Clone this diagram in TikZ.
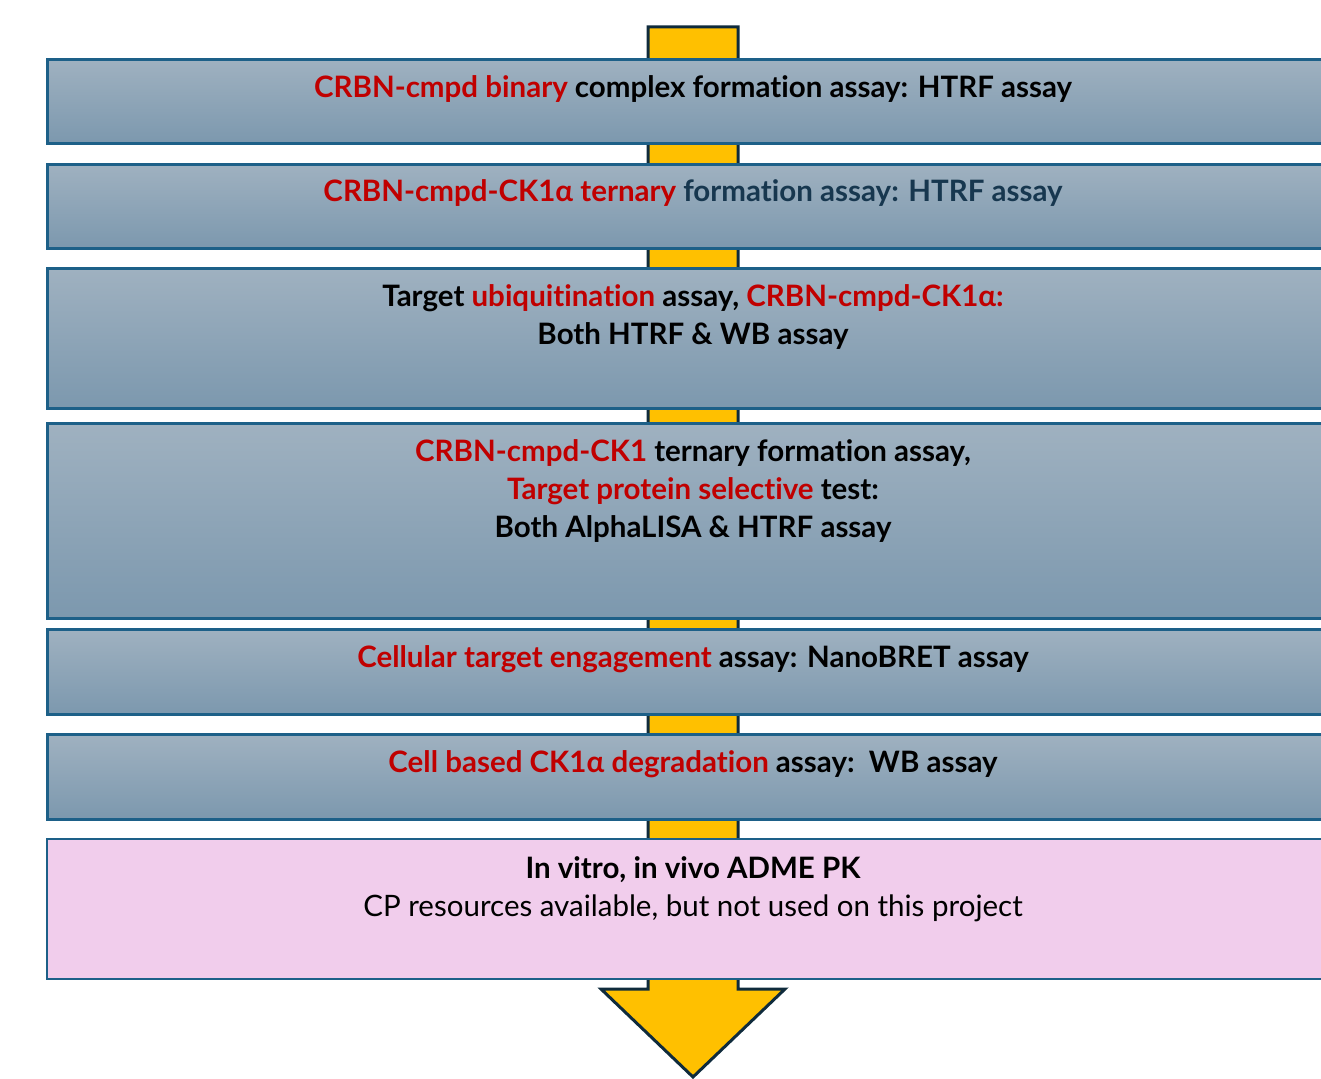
\documentclass[tikz,border=0pt]{standalone}
\usepackage{fontspec}
\setmainfont{Lato}[Ligatures=NoCommon]
\definecolor{rd}{HTML}{C00000}
\definecolor{nv}{HTML}{17374F}
\definecolor{boxline}{HTML}{1D6088}
\definecolor{gtop}{HTML}{9FB1C0}
\definecolor{gbot}{HTML}{7C98AE}
\definecolor{pinkfill}{HTML}{F1CDEC}
\definecolor{arrowfill}{HTML}{FFC000}
\definecolor{arrowline}{HTML}{0F2B3C}
\begin{document}
\begin{tikzpicture}[x=1pt,y=-1pt,
  stagebox/.style={draw=boxline, line width=3pt, top color=gtop, bottom color=gbot, anchor=north west, minimum width=1320pt, inner sep=0pt},
  pinkbox/.style={draw=boxline, line width=2pt, fill=pinkfill, anchor=north west, minimum width=1320pt, inner sep=0pt},
  lbl/.style={align=center, font=\fontsize{29.5}{38}\selectfont\bfseries, inner sep=0pt}]
\useasboundingbox (0,0) rectangle (1321,1078);
\clip (0,0) rectangle (1321,1078);
% big arrow behind boxes
\draw[line width=3pt, fill=arrowfill, draw=arrowline, line join=miter]
  (648,27) -- (738,27) -- (738,989) -- (785,989) -- (693,1077) -- (601,989) -- (648,989) -- cycle;
% boxes
\node[stagebox, minimum height=84pt] (b1) at (46,58) {};
\node[stagebox, minimum height=84pt] (b2) at (46,163) {};
\node[stagebox, minimum height=140pt] (b3) at (46,267) {};
\node[stagebox, minimum height=195pt] (b4) at (46,422) {};
\node[stagebox, minimum height=85pt] (b5) at (46,628) {};
\node[stagebox, minimum height=85pt] (b6) at (46,733) {};
\node[pinkbox, minimum height=140pt] (b7) at (46,838) {};
% texts
\node[lbl] (t1) at (693,89) {\textcolor{rd}{CRBN-cmpd binary} complex formation assay: HTRF assay};
\node[lbl] (t2) at (693,193) {\textcolor{rd}{CRBN-cmpd-CK1α ternary} \textcolor{nv}{formation assay: HTRF assay}};
\node[lbl] (t3) at (693,317) {Target \textcolor{rd}{ubiquitination} assay, \textcolor{rd}{CRBN-cmpd-CK1α:}\\ Both HTRF \& WB assay};
\node[lbl] (t4) at (693,491) {\textcolor{rd}{CRBN-cmpd-CK1} ternary formation assay,\\ \textcolor{rd}{Target protein selective} test:\\ Both AlphaLISA \& HTRF assay};
\node[lbl] (t5) at (693,659) {\textcolor{rd}{Cellular target engagement} assay: NanoBRET assay};
\node[lbl] (t6) at (693,764) {\textcolor{rd}{Cell based CK1α degradation} assay:\ \ WB assay};
\node[lbl] (t7) at (693,889) {In vitro, in vivo ADME PK\\ {\mdseries CP resources available, but not used on this project}};
\end{tikzpicture}
\end{document}
